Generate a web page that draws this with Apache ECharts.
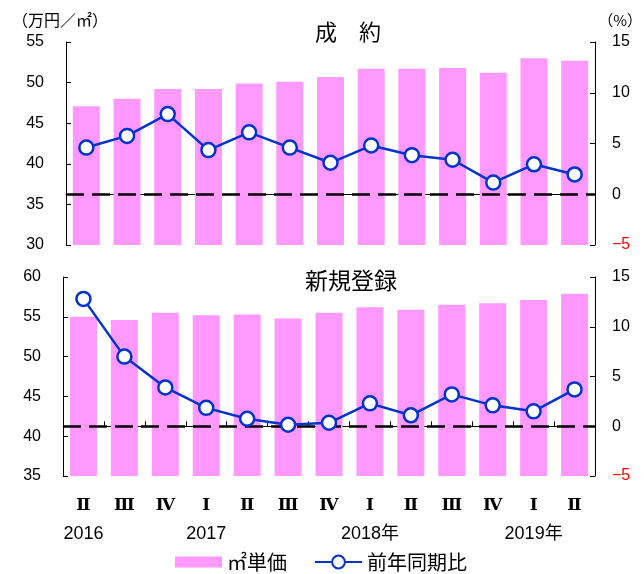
<!DOCTYPE html>
<html><head><meta charset="utf-8">
<script src="https://cdn.jsdelivr.net/npm/echarts@6/dist/echarts.min.js"></script>
<style>html,body{margin:0;padding:0;background:#fff}#c{width:644px;height:574px}</style>
</head><body><div id="c"></div>
<script>
const quarters = ['Ⅱ','Ⅲ','Ⅳ','Ⅰ','Ⅱ','Ⅲ','Ⅳ','Ⅰ','Ⅱ','Ⅲ','Ⅳ','Ⅰ','Ⅱ'];
const years = ['2016','','','2017','','','','2018年','','','','2019年',''];
const contractPrice = [47.1,48.0,49.2,49.2,49.9,50.1,50.7,51.7,51.7,51.8,51.2,53.0,52.7];
const contractYoY = [4.6,5.75,7.9,4.35,6.1,4.6,3.1,4.8,3.85,3.4,1.15,2.95,1.95];
const listingPrice = [55.0,54.6,55.5,55.2,55.3,54.8,55.5,56.2,55.9,56.5,56.7,57.1,57.9];
const listingYoY = [12.8,7.0,3.9,1.85,0.75,0.15,0.35,2.3,1.1,3.2,2.1,1.5,3.7];
const priceName = '㎡単価';
const yoyName = '前年同期比';

const FONT = '"Liberation Sans", "Noto Sans CJK JP", sans-serif';
const CJK = '"Noto Sans CJK JP", sans-serif';
const PINK = '#FF99FF';
const BLUE = '#0033CC';

const chart = echarts.init(document.getElementById('c'), null, {renderer: 'canvas'});

function leftAxis(gi, min, max) {
  return {
    type: 'value', gridIndex: gi, position: 'left', min: min, max: max, interval: 5,
    axisLine: {show: true, lineStyle: {color: '#000', width: 1}},
    axisTick: {show: true, inside: true, length: 5, lineStyle: {color: '#000'}},
    axisLabel: {margin: 22, fontSize: 16, color: '#000', fontFamily: FONT},
    splitLine: {show: false}
  };
}
function rightAxis(gi) {
  return {
    type: 'value', gridIndex: gi, position: 'right', min: -5, max: 15, interval: 5,
    axisLine: {show: true, lineStyle: {color: '#000', width: 1}},
    axisTick: {show: true, inside: true, length: 5, lineStyle: {color: '#000'}},
    axisLabel: {
      margin: 17, fontSize: 16, fontFamily: FONT,
      color: function (v) { return Number(v) < 0 ? '#FF0000' : '#000'; },
      formatter: function (v) { return v < 0 ? '\u2212' + Math.abs(v) : String(v); }
    },
    splitLine: {show: false}
  };
}
function zeroLine() {
  return {
    silent: true, symbol: 'none', z: 3,
    label: {show: false},
    lineStyle: {color: '#000', width: 2.5, type: [18, 8]},
    data: [{yAxis: 0}]
  };
}

chart.setOption({
  animation: false,
  backgroundColor: '#fff',
  grid: [
    {left: 66, right: 49, top: 42, height: 203},
    {left: 63, right: 49, top: 277, height: 199}
  ],
  xAxis: [
    {type: 'category', gridIndex: 0, data: quarters,
      axisLine: {show: true, lineStyle: {color: '#000'}},
      axisTick: {show: false}, axisLabel: {show: false}},
    {type: 'category', gridIndex: 1, data: quarters,
      axisLine: {show: true, lineStyle: {color: '#000'}},
      axisTick: {show: true, inside: true, length: 5, interval: 0, lineStyle: {color: '#000'}},
      axisLabel: {
        interval: 0, margin: 16,
        formatter: function (v, i) { return '{r|' + quarters[i] + '}\n{y|' + (years[i] || ' ') + '}'; },
        rich: {
          r: {fontSize: 17, fontWeight: 'bold', fontFamily: '"DejaVu Serif", "Liberation Serif", serif', color: '#000', lineHeight: 28},
          y: {fontSize: 18, fontFamily: FONT, color: '#000', lineHeight: 28}
        }
      }}
  ],
  yAxis: [leftAxis(0, 30, 55), rightAxis(0), leftAxis(1, 35, 60), rightAxis(1)],
  legend: {
    left: 170, top: 547, itemWidth: 47, itemHeight: 16, itemGap: 27, symbolKeepAspect: true,
    textStyle: {fontSize: 20, fontFamily: CJK, color: '#000'},
    data: [
      {name: priceName, icon: 'path://M0,0H47V11H0Z'},
      {name: yoyName}
    ]
  },
  graphic: [
    {type: 'text', x: 12, y: 20, style: {text: '（万円／㎡）', font: '16px ' + CJK, fill: '#000', textAlign: 'left', textVerticalAlign: 'middle'}},
    {type: 'text', x: 642, y: 20, style: {text: '（%）', font: '15px ' + CJK, fill: '#000', textAlign: 'right', textVerticalAlign: 'middle'}},
    {type: 'text', x: 348, y: 32, style: {text: '成　約', font: '22px ' + CJK, fill: '#000', textAlign: 'center', textVerticalAlign: 'middle'}},
    {type: 'text', x: 351, y: 280, style: {text: '新規登録', font: '23px ' + CJK, fill: '#000', textAlign: 'center', textVerticalAlign: 'middle'}}
  ],
  series: [
    {name: priceName, type: 'bar', xAxisIndex: 0, yAxisIndex: 0, data: contractPrice,
      barWidth: 27, itemStyle: {color: PINK}, z: 2},
    {name: yoyName, type: 'line', xAxisIndex: 0, yAxisIndex: 1, data: contractYoY,
      symbol: 'circle', symbolSize: 14, z: 4,
      lineStyle: {color: BLUE, width: 2.5},
      itemStyle: {color: '#fff', borderColor: BLUE, borderWidth: 2.5},
      markLine: zeroLine()},
    {name: priceName, type: 'bar', xAxisIndex: 1, yAxisIndex: 2, data: listingPrice,
      barWidth: 27, itemStyle: {color: PINK}, z: 2},
    {name: yoyName, type: 'line', xAxisIndex: 1, yAxisIndex: 3, data: listingYoY,
      symbol: 'circle', symbolSize: 14, z: 4,
      lineStyle: {color: BLUE, width: 2.5},
      itemStyle: {color: '#fff', borderColor: BLUE, borderWidth: 2.5},
      markLine: zeroLine()}
  ]
});
</script></body></html>
